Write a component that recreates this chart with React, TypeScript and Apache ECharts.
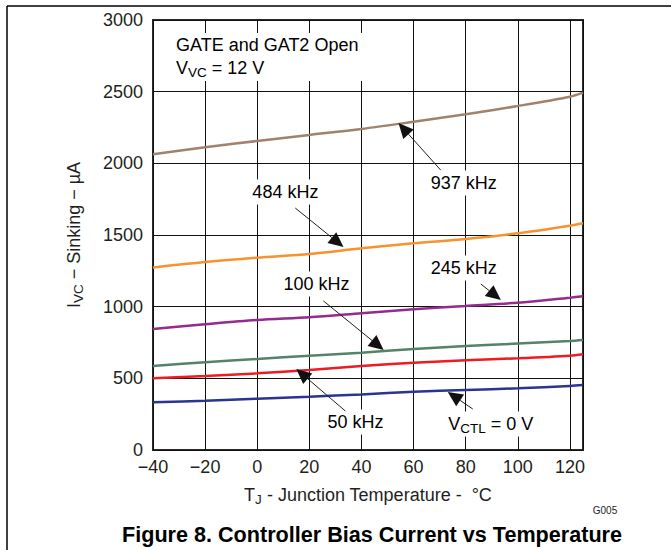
import React, { useEffect, useRef } from 'react';
import * as echarts from 'echarts';

// ---- data ----
const temps = [-40, -20, 0, 20, 40, 60, 80, 100, 120, 125];
const f937 = [2063, 2112, 2156, 2198, 2240, 2290, 2342, 2400, 2465, 2493];
const f484 = [1274, 1312, 1342, 1367, 1407, 1442, 1472, 1512, 1565, 1582];
const f245 = [844, 877, 907, 926, 954, 982, 1005, 1028, 1063, 1072];
const f100 = [586, 612, 635, 658, 679, 705, 725, 743, 760, 767];
const f50 = [500, 516, 535, 558, 586, 609, 626, 640, 658, 668];
const vctl0 = [333, 344, 358, 372, 388, 407, 419, 430, 447, 453];

const FONT = "'Liberation Sans', Arial, Helvetica, sans-serif";
const TXT = '#231F20';

// annotation callouts, in data units: label centre, arrow tail, arrow tip
const callouts = [
  { text: '{n|937 kHz}', at: [79.2, 1863], tail: [70.4, 1953], tip: [54.2, 2281] },
  { text: '{n|484 kHz}', at: [10.8, 1800], tail: [14.6, 1688], tip: [33.1, 1416] },
  { text: '{n|245 kHz}', at: [79.2, 1270], tail: [85.8, 1158], tip: [93.5, 1047] },
  { text: '{n|100 kHz}', at: [22.7, 1158], tail: [25.4, 1040], tip: [48.5, 698] },
  { text: '{n|50 kHz}', at: [37.7, 195], tail: [33.8, 272], tip: [15.0, 565] },
  { text: '{n|V}{s|CTL}{n| = 0 V}', at: [89.6, 181], tail: [82.7, 286], tip: [73.1, 405] },
];

const rich = {
  n: { fontSize: 18, fontFamily: FONT, color: TXT, lineHeight: 23, verticalAlign: 'middle' },
  s: { fontSize: 13.5, fontFamily: FONT, color: TXT, lineHeight: 23, verticalAlign: 'bottom' },
};

function mk(name: string, data: number[], color: string) {
  return {
    name,
    type: 'line',
    data: temps.map((t, i) => [t, data[i]]),
    showSymbol: false,
    smooth: 0.3,
    lineStyle: { color, width: 2.5 },
    itemStyle: { color },
    z: 5,
  };
}

export default function App() {
  const ref = useRef<HTMLDivElement>(null);
  useEffect(() => {
    if (!ref.current) return;
    const chart = echarts.init(ref.current, null, { renderer: 'svg' });
    const option: any = {
      animation: false,
      backgroundColor: '#fff',
      grid: { left: 153, top: 20, right: 88, bottom: 100, show: true, borderColor: '#2a2a2a', borderWidth: 2, outerBoundsMode: 'none' },
      xAxis: {
        type: 'value', min: -40, max: 125, interval: 20,
        axisLine: { show: false }, axisTick: { show: false },
        splitLine: { show: true, lineStyle: { color: '#111', width: 1 } },
        axisLabel: {
          margin: 8, fontSize: 18, fontFamily: FONT, color: TXT,
          formatter: (v: number) => (v > 120 ? '' : String(v).replace('-', '\u2212')),
        },
        name: '{n|T}{s|J}{n| - Junction Temperature -  °C}',
        nameLocation: 'middle', nameGap: 33,
        nameTextStyle: { rich },
      },
      yAxis: {
        type: 'value', min: 0, max: 3000, interval: 500,
        axisLine: { show: false }, axisTick: { show: false },
        splitLine: { show: true, lineStyle: { color: '#111', width: 1 } },
        axisLabel: { margin: 10, fontSize: 18, fontFamily: FONT, color: TXT, formatter: (v: number) => String(v) },
        name: '{n|I}{s|VC}{n| \u2212 Sinking \u2212 \u00b5A}',
        nameLocation: 'middle', nameGap: 68, nameRotate: 90,
        nameTextStyle: { rich },
      },
      series: [
        mk('937 kHz', f937, '#A1826C'),
        mk('484 kHz', f484, '#F7922E'),
        mk('245 kHz', f245, '#962A8F'),
        mk('100 kHz', f100, '#55836A'),
        mk('50 kHz', f50, '#EC1C24'),
        mk('VCTL = 0 V', vctl0, '#2B3491'),
      ],
    };
    chart.setOption(option);

    const px = (p: number[]) => chart.convertToPixel({ gridIndex: 0 }, p) as number[];
    const graphics: any[] = [];
    // page frame
    graphics.push({ type: 'line', shape: { x1: 7, y1: 6, x2: 671, y2: 6 }, style: { stroke: '#000', lineWidth: 1.5 }, z: 20 });
    graphics.push({ type: 'line', shape: { x1: 7, y1: 6, x2: 7, y2: 550 }, style: { stroke: '#000', lineWidth: 1.5 }, z: 20 });
    // condition box
    graphics.push({
      type: 'text', x: 170, y: 33, z: 10,
      style: {
        text: '{n|GATE and GAT2 Open}\n{n|V}{s|VC}{n| = 12 V}',
        rich, backgroundColor: '#fff', padding: [0, 6, 2, 6], align: 'left', verticalAlign: 'top',
      },
    });
    for (const c of callouts) {
      const a = px(c.at);
      const t = px(c.tail);
      const h = px(c.tip);
      graphics.push({
        type: 'text', x: a[0], y: a[1], z: 10,
        style: { text: c.text, rich, backgroundColor: '#fff', padding: [1, 4, 1, 4], align: 'center', verticalAlign: 'middle' },
      });
      const dx = h[0] - t[0];
      const dy = h[1] - t[1];
      const L = Math.sqrt(dx * dx + dy * dy);
      const ux = dx / L, uy = dy / L;
      const hl = 15, hw = 7;
      const bx = h[0] - ux * hl, by = h[1] - uy * hl;
      graphics.push({ type: 'line', shape: { x1: t[0], y1: t[1], x2: bx, y2: by }, style: { stroke: '#231F20', lineWidth: 1 }, z: 11 });
      graphics.push({
        type: 'polygon', z: 11,
        shape: { points: [[h[0], h[1]], [bx - uy * hw, by + ux * hw], [bx + uy * hw, by - ux * hw]] },
        style: { fill: '#111' },
      });
    }
    graphics.push({
      type: 'text', x: 605, y: 510, z: 10,
      style: { text: 'G005', fontSize: 10, fontFamily: FONT, fill: TXT, align: 'center', verticalAlign: 'middle' },
    });
    graphics.push({
      type: 'text', x: 372, y: 534, z: 10,
      style: {
        text: 'Figure 8. Controller Bias Current vs Temperature',
        fontSize: 21.6, fontWeight: 'bold', fontFamily: FONT, fill: '#000', align: 'center', verticalAlign: 'middle',
      },
    });
    chart.setOption({ graphic: graphics });
    return () => chart.dispose();
  }, []);
  return (
    <div
      ref={ref}
      style={{ position: 'fixed', left: 0, top: 0, width: 671, height: 550, background: '#fff' }}
    />
  );
}
